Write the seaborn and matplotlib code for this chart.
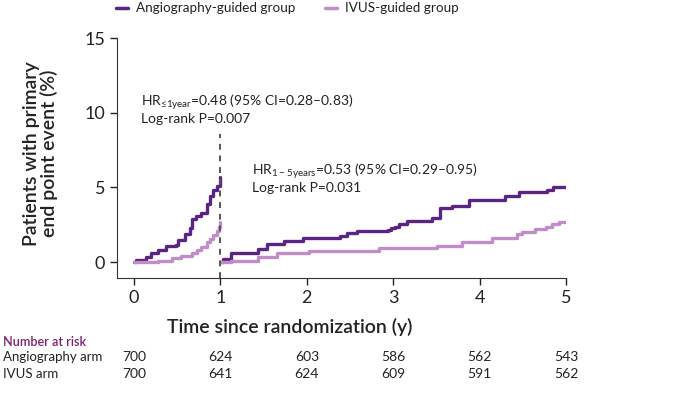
import numpy as np
import pandas as pd
import matplotlib
matplotlib.use("Agg")
import matplotlib.pyplot as plt
import matplotlib.transforms as mtransforms
import seaborn as sns

# Valores (incidencia acumulada, %)
ang_t1 = [0, 0.02, 0.14, 0.2, 0.28, 0.37, 0.49, 0.51, 0.59, 0.65, 0.67, 0.72, 0.78, 0.84, 0.88, 0.92, 0.96, 0.99, 1.0]
ang_v1 = [0, 0.13, 0.36, 0.6, 0.8, 1.07, 1.14, 1.47, 1.9, 2.25, 2.9, 3.05, 3.26, 3.9, 4.4, 4.8, 5.1, 5.4, 5.7]
ivus_t1 = [0, 0.13, 0.28, 0.44, 0.55, 0.67, 0.73, 0.78, 0.84, 0.88, 0.92, 0.96, 0.98, 1.0]
ivus_v1 = [0, 0.02, 0.1, 0.25, 0.4, 0.58, 0.8, 1.0, 1.36, 1.55, 1.8, 2.05, 2.36, 2.7]

ang_t2 = [1.0, 1.03, 1.12, 1.44, 1.54, 1.73, 1.95, 2.38, 2.46, 2.58, 2.94, 2.97, 3.02, 3.06, 3.16,
          3.45, 3.54, 3.68, 3.88, 4.29, 4.45, 4.78, 4.85, 5.0]
ang_v2 = [0, 0.18, 0.58, 0.9, 1.2, 1.4, 1.59, 1.74, 1.92, 2.08, 2.15, 2.3, 2.37, 2.52, 2.75,
          2.93, 3.6, 3.75, 4.15, 4.44, 4.67, 4.82, 5.04, 5.04]
ivus_t2 = [1.0, 1.12, 1.44, 1.65, 2.02, 2.83, 3.5, 3.79, 4.14, 4.43, 4.49, 4.64, 4.76, 4.83, 4.91, 5.0]
ivus_v2 = [0, 0.1, 0.31, 0.58, 0.76, 0.92, 1.09, 1.36, 1.63, 1.85, 1.99, 2.21, 2.37, 2.52, 2.7, 2.7]

groups = ["Angiography-guided group", "IVUS-guided group"]
risk_times = [0, 1, 2, 3, 4, 5]
risk_labels = ["Angiography arm", "IVUS arm"]
risk_ang = [700, 624, 603, 586, 562, 543]
risk_ivus = [700, 641, 624, 609, 591, 562]

hr1_text = "HR$_{\\mathregular{≤1year}}$=0.48 (95% CI=0.28–0.83)\nLog-rank P=0.007"
hr2_text = "HR$_{\\mathregular{1-5years}}$=0.53 (95% CI=0.29–0.95)\nLog-rank P=0.031"

def segmento(t, v, grupo, seg):
    return pd.DataFrame({"t": t, "v": v, "group": grupo, "seg": seg})

df = pd.concat([
    segmento(ang_t1, ang_v1, groups[0], "a1"),
    segmento(ang_t2, ang_v2, groups[0], "a2"),
    segmento(ivus_t1, ivus_v1, groups[1], "b1"),
    segmento(ivus_t2, ivus_v2, groups[1], "b2"),
])

sns.set_style("ticks")
plt.rcParams["font.family"] = ["Lato", "DejaVu Sans"]
plt.rcParams["mathtext.fontset"] = "custom"
plt.rcParams["mathtext.rm"] = "Lato"

dark = "#5b2483"
light = "#c08dc9"
palette = {groups[0]: dark, groups[1]: light}
txt = "#222222"

fig = plt.figure(figsize=(7, 3.94), dpi=100)
ax = fig.add_axes([0.167, 0.2944, 0.642, 0.609])

sns.lineplot(data=df, x="t", y="v", hue="group", units="seg", estimator=None,
             palette=palette, drawstyle="steps-post", linewidth=2.4, ax=ax, legend=False)

ax.axvline(1, ymin=0, ymax=(8.6 + 1.07) / 16.07, color="#555555", linestyle=(0, (3, 3)), linewidth=1.4)

ax.set_xlim(-0.197, 5.0)
ax.set_ylim(-1.07, 15)
ax.set_xticks(risk_times)
ax.set_yticks([0, 5, 10, 15])
ax.tick_params(axis="both", direction="out", length=5, width=1, labelsize=13, colors=txt)
for s in ["left", "bottom"]:
    ax.spines[s].set_color("#333333")
sns.despine(ax=ax)

ax.set_xlabel("Time since randomization (y)", fontsize=14, fontweight="semibold", color=txt)
ax.xaxis.set_label_coords(0.385, -0.165)
ax.set_ylabel("Patients with primary\nend point event (%)", fontsize=14, fontweight="semibold",
              color=txt, linespacing=1.0)
ax.yaxis.set_label_coords(-0.132, 0.52)

ax.text(0.08, 10.3, hr1_text, fontsize=10, color=txt, va="center", linespacing=1.1)
ax.text(1.37, 5.65, hr2_text, fontsize=10, color=txt, va="center", linespacing=1.1)

# leyenda
handles = [plt.Line2D([], [], color=dark, lw=2.5), plt.Line2D([], [], color=light, lw=2.5)]
fig.legend(handles, groups, loc="upper left", bbox_to_anchor=(0.148, 1.025), ncol=2, frameon=False,
           fontsize=9.7, handlelength=0.9, handletextpad=0.6, columnspacing=2.2, labelcolor=txt)

# tabla de pacientes en riesgo
trans = mtransforms.blended_transform_factory(ax.transData, fig.transFigure)
fig.text(0.004, 1 - 342 / 394, "Number at risk", fontsize=9, color="#7b1f6f", va="center",
         fontweight="semibold")
for row, (lab, vals) in enumerate(zip(risk_labels, [risk_ang, risk_ivus])):
    yy = 1 - (357 + 17 * row) / 394
    fig.text(0.004, yy, lab, fontsize=9.5, color=txt, va="center")
    for t, n in zip(risk_times, vals):
        ax.text(t, yy, str(n), transform=trans, fontsize=10, color=txt, ha="center", va="center",
                clip_on=False)

fig.savefig("out.png", dpi=100)
